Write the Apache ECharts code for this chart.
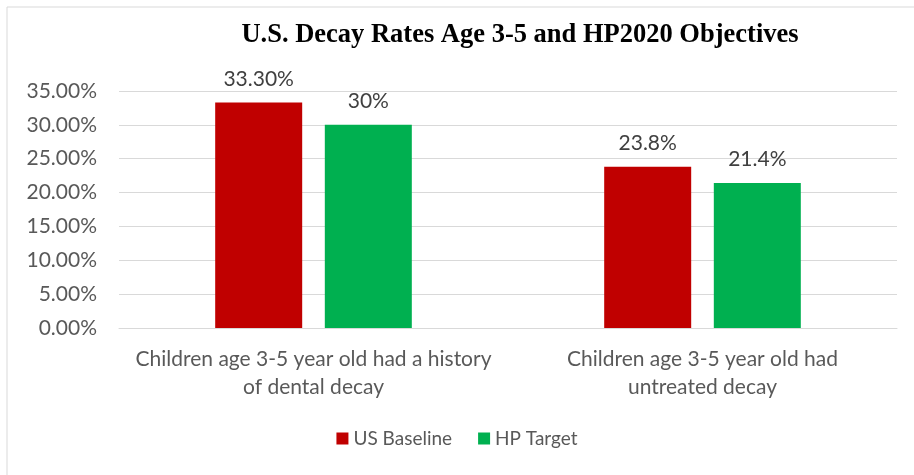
<!DOCTYPE html>
<html>
<head>
<meta charset="utf-8">
<script src="https://cdn.jsdelivr.net/npm/echarts@6/dist/echarts.min.js"></script>
<style>
	html, body { margin: 0; padding: 0; background: #fff; }
	#chart { width: 914px; height: 475px; }
</style>
</head>
<body>
<div id="chart"></div>
<script>
// values
var categories = [
	"Children age 3-5 year old had a history\nof dental decay",
	"Children age 3-5 year old had\nuntreated decay",
];
var usBaseline = [33.3, 23.8];
var hpTarget = [30, 21.4];
var usLabels = ["33.30%", "23.8%"];
var hpLabels = ["30%", "21.4%"];

var font = "Lato, 'Open Sans', sans-serif";

var chart = echarts.init(document.getElementById("chart"));

chart.setOption({
	animation: false,
	title: {
		text: "U.S. Decay Rates Age 3-5 and HP2020 Objectives",
		left: 515,
		textAlign: "center",
		top: 17,
		textStyle: {
			fontFamily: "'Liberation Serif', 'Times New Roman', serif",
			fontWeight: "bold",
			fontSize: 26.5,
			color: "#000",
		},
	},
	graphic: [
		{
			type: "rect",
			shape: { x: 7, y: 7, width: 1000, height: 1000 },
			style: { fill: "none", stroke: "#d9d9d9", lineWidth: 1 },
			silent: true,
		},
	],
	legend: {
		bottom: 22,
		left: "center",
		itemWidth: 12,
		itemHeight: 12,
		itemGap: 26,
		icon: "rect",
		textStyle: { fontFamily: font, fontSize: 19, color: "#595959" },
		data: ["US Baseline", "HP Target"],
	},
	grid: {
		left: 119,
		right: 17,
		top: 91,
		bottom: 147,
	},
	xAxis: {
		type: "category",
		data: categories,
		axisTick: { show: false },
		axisLine: { lineStyle: { color: "#d9d9d9" } },
		axisLabel: {
			fontFamily: font,
			fontSize: 21,
			color: "#595959",
			lineHeight: 28,
			margin: 17,
			interval: 0,
		},
	},
	yAxis: {
		type: "value",
		min: 0,
		max: 35,
		interval: 5,
		axisLine: { show: false },
		axisTick: { show: false },
		splitLine: { lineStyle: { color: "#d9d9d9" } },
		axisLabel: {
			fontFamily: font,
			fontSize: 21,
			color: "#595959",
			margin: 22,
			formatter: function (v) {
				return v.toFixed(2) + "%";
			},
		},
	},
	series: [
		{
			name: "US Baseline",
			type: "bar",
			data: usBaseline,
			barWidth: 87,
			barGap: "26%",
			itemStyle: { color: "#c00000" },
			label: {
				show: true,
				position: "top",
				distance: 13,
				fontFamily: font,
				fontSize: 21,
				color: "#404040",
				formatter: function (p) {
					return usLabels[p.dataIndex];
				},
			},
		},
		{
			name: "HP Target",
			type: "bar",
			data: hpTarget,
			barWidth: 87,
			itemStyle: { color: "#00b050" },
			label: {
				show: true,
				position: "top",
				distance: 13,
				fontFamily: font,
				fontSize: 21,
				color: "#404040",
				formatter: function (p) {
					return hpLabels[p.dataIndex];
				},
			},
		},
	],
});
</script>
</body>
</html>
